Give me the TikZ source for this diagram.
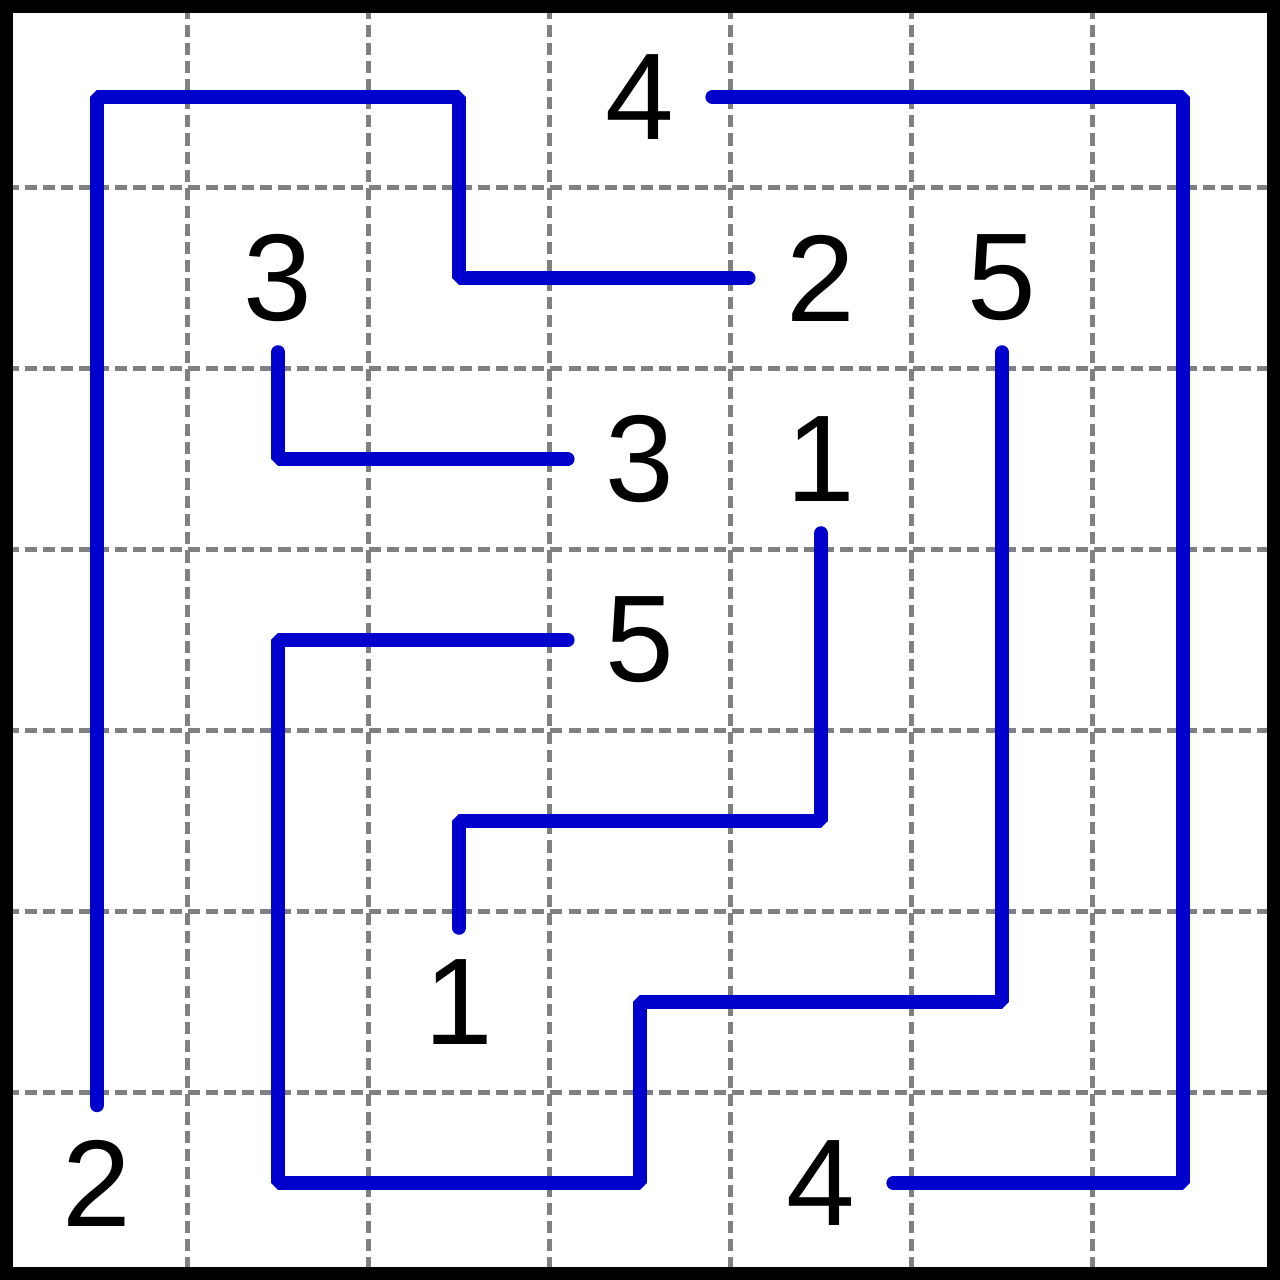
\documentclass[tikz,border=0pt]{standalone}
\usepackage{fontspec}
\setmainfont{Liberation Sans}
\definecolor{pathblue}{HTML}{0000CC}
\definecolor{gridgray}{HTML}{808080}
\begin{document}
\begin{tikzpicture}[
  gridline/.style={draw=gridgray, line width=0.78pt, dash pattern=on 1.9pt off 0.95pt},
  link/.style={draw=pathblue, line width=2.2pt, line cap=round, line join=bevel},
  num/.style={inner sep=0pt, font=\fontsize{19.4pt}{20pt}\selectfont}
]
\useasboundingbox (-0.536,0.536) rectangle (6.536,-6.536);
\fill[white] (-0.536,0.536) rectangle (6.536,-6.536);
% grid
\foreach \i in {0.5,1.5,...,5.5} {
  \draw[gridline] (\i,0.5) -- (\i,-6.5);
  \draw[gridline] (-0.5,-\i) -- (6.5,-\i);
}
% numbers (x = column, y = -row)
\node[num] (n4a) at (3,0) {4};
\node[num] (n3a) at (1,-1) {3};
\node[num] (n2b) at (4,-1) {2};
\node[num] (n5a) at (5,-1) {5};
\node[num] (n3b) at (3,-2) {3};
\node[num] (n1a) at (4,-2) {1};
\node[num] (n5b) at (3,-3) {5};
\node[num] (n1b) at (2,-5) {1};
\node[num] (n2a) at (0,-6) {2};
\node[num] (n4b) at (4,-6) {4};
% endpoints
\coordinate (e2a) at (0,-5.57);
\coordinate (e2b) at (3.6,-1);
\coordinate (e4a) at (3.4,0);
\coordinate (e4b) at (4.4,-6);
\coordinate (e3a) at (1,-1.41);
\coordinate (e3b) at (2.6,-2);
\coordinate (e5a) at (5,-1.41);
\coordinate (e5b) at (2.6,-3);
\coordinate (e1a) at (4,-2.41);
\coordinate (e1b) at (2,-4.59);
% paths
\draw[link] (e2a) -- (0,0) -- (2,0) -- (2,-1) -- (e2b);
\draw[link] (e4a) -- (6,0) -- (6,-6) -- (e4b);
\draw[link] (e3a) -- (1,-2) -- (e3b);
\draw[link] (e5a) -- (5,-5) -- (3,-5) -- (3,-6) -- (1,-6) -- (1,-3) -- (e5b);
\draw[link] (e1a) -- (4,-4) -- (2,-4) -- (e1b);
% border
\draw[black, line width=2.03pt] (-0.5,0.5) rectangle (6.5,-6.5);
\end{tikzpicture}
\end{document}
